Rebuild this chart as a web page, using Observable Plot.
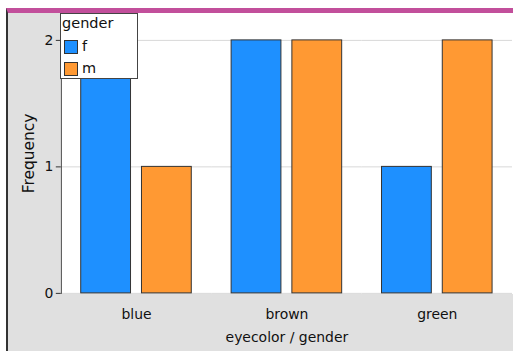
<!DOCTYPE html>
<html>
<head>
<meta charset="utf-8">
<script src="https://cdn.jsdelivr.net/npm/d3@7"></script>
<script src="https://cdn.jsdelivr.net/npm/@observablehq/plot@0.6"></script>
<style>
  html, body { margin: 0; padding: 0; background: #ffffff; }
  body { width: 513px; height: 351px; position: relative; overflow: hidden; font-family: "DejaVu Sans", sans-serif; }
  #wrap { position: absolute; left: 6px; top: 8px; width: 505px; height: 338px; border-top: 5px solid #c24f9b; border-left: 2px solid #333; background: #e0e0e0; overflow: hidden; }
  #panel { position: absolute; left: 52px; top: 0; width: 460px; height: 281px; background: #fff; z-index: 0; }
  #chart { position: absolute; left: 0; top: 0; z-index: 1; line-height: 0; }
  #chart svg { display: block; background: transparent !important; }
  #legend { position: absolute; left: 52px; top: 0px; width: 76px; height: 64px; background: #fff; border: 1px solid #444; font-size: 14.5px; color: #111; z-index: 2; }
  #legend .title { position: absolute; left: 1px; top: 1px; line-height: 16px; }
  #legend .item { position: absolute; left: 3px; height: 14px; }
  #legend .sw { position: absolute; left: 0; top: 0; width: 12px; height: 12px; border: 1px solid #333; }
  #legend .lab { position: absolute; left: 18px; top: -2px; line-height: 16px; }
</style>
</head>
<body>
<div id="wrap"><div id="panel"></div><div id="chart"></div><div id="legend"></div></div>
<script>
const eyecolors = ["blue", "brown", "green"];
const genders = ["f", "m"];
const freqF = [2, 2, 1];
const freqM = [1, 2, 2];
const colors = ["#1e90ff", "#ff9933"];
const yTicks = [0, 1, 2];

const data = eyecolors.flatMap((e, i) => [
  {eyecolor: e, gender: "f", n: freqF[i]},
  {eyecolor: e, gender: "m", n: freqM[i]}
]);

const plot = Plot.plot({
  width: 507,
  height: 338,
  marginLeft: 52,
  marginRight: 0,
  marginTop: 0,
  marginBottom: 57,
  style: {fontFamily: "DejaVu Sans", fontSize: "14px", background: "transparent", color: "#111"},
  fx: {domain: eyecolors, paddingInner: 0, paddingOuter: 0, label: "eyecolor / gender"},
  x: {domain: genders, paddingInner: 0.177, paddingOuter: 0.312, axis: null},
  y: {domain: [0, 2.2126], label: "Frequency"},
  color: {domain: genders, range: colors},
  marks: [
    Plot.gridY(yTicks, {stroke: "#d8d8d8", strokeOpacity: 1}),
    Plot.barY(data, {fx: "eyecolor", x: "gender", y: "n", fill: "gender", stroke: "#333", strokeWidth: 1}),
    Plot.frame({anchor: "left", facetAnchor: "left", stroke: "#333"}),
    Plot.axisY(yTicks, {tickSize: 5, tickPadding: 3, label: null, stroke: "#333", tickFormat: d3.format("d")}),
    Plot.axisY([], {tickSize: 0, label: "Frequency", labelAnchor: "center", labelArrow: "none", labelOffset: 38, fontSize: 15.5}),
    Plot.axisFx({anchor: "bottom", tickSize: 0, tickPadding: 16, label: "eyecolor / gender", labelAnchor: "center", labelArrow: "none", labelOffset: 49})
  ]
});
document.getElementById("chart").appendChild(plot);

const cs = plot.scale("color");
const leg = document.getElementById("legend");
const t = document.createElement("div");
t.className = "title"; t.textContent = "gender";
leg.appendChild(t);
cs.domain.forEach((g, i) => {
  const it = document.createElement("div");
  it.className = "item";
  it.style.top = (26 + i * 22) + "px";
  const sw = document.createElement("div");
  sw.className = "sw"; sw.style.background = cs.range[i];
  const lb = document.createElement("div");
  lb.className = "lab"; lb.textContent = g;
  it.appendChild(sw); it.appendChild(lb);
  leg.appendChild(it);
});
</script>
</body>
</html>
